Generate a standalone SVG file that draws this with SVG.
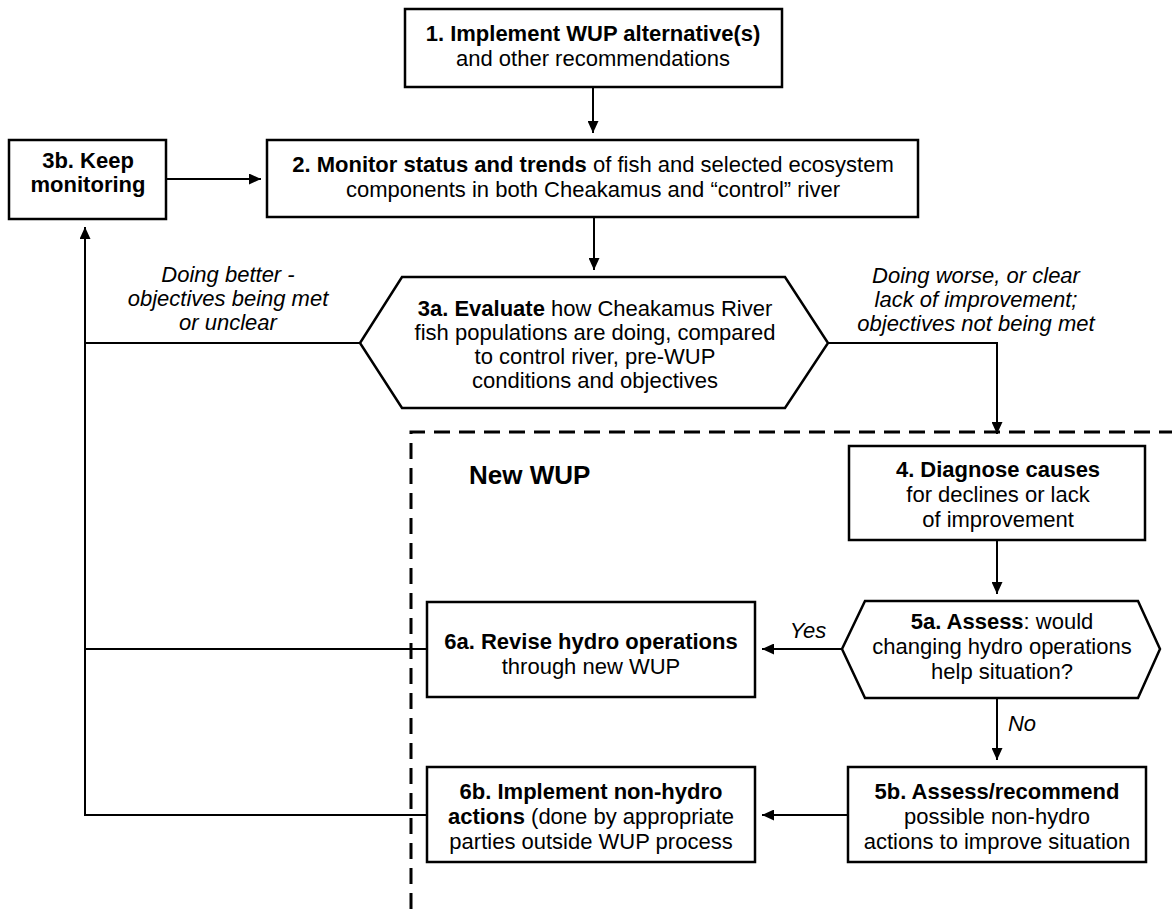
<svg xmlns="http://www.w3.org/2000/svg" width="1172" height="909" viewBox="0 0 1172 909">
  <defs>
    <marker id="arr" viewBox="0 0 12 11" refX="12" refY="5.5" markerWidth="12" markerHeight="11" markerUnits="userSpaceOnUse" orient="auto">
      <path d="M0,0 L12,5.5 L0,11 Z" fill="#000"/>
    </marker>
    <style>
      .box { fill: #fff; stroke: #000; stroke-width: 2.5; }
      .t { font-family: "Liberation Sans", Arial, sans-serif; font-size: 22px; fill: #000; text-anchor: middle; }
      .b { font-weight: bold; }
      .i { font-style: italic; }
      .c { fill: none; stroke: #000; stroke-width: 2; }
      .dash { fill: none; stroke: #000; stroke-width: 3; stroke-dasharray: 16 9; }
    </style>
  </defs>
  <rect width="1172" height="909" fill="#fff"/>

  <!-- New WUP region boundary -->
  <g id="region-new-wup">
    <path class="dash" d="M411,909 V432 H1172"/>
    <text class="t b" x="469" y="484" style="text-anchor:start;font-size:26px">New WUP</text>
  </g>

  <!-- Connectors -->
  <g id="connectors">
    <path class="c" d="M593,87 V133" marker-end="url(#arr)"/>
    <path class="c" d="M594,217 V270" marker-end="url(#arr)"/>
    <path class="c" d="M166,179 H261" marker-end="url(#arr)"/>
    <path class="c" d="M360,343 H85"/>
    <path class="c" d="M427,649 H85"/>
    <path class="c" d="M427,815 H85 V227" marker-end="url(#arr)"/>
    <path class="c" d="M828,343 H997 V434" marker-end="url(#arr)"/>
    <path class="c" d="M997,540 V594" marker-end="url(#arr)"/>
    <path class="c" d="M842,649 H762" marker-end="url(#arr)"/>
    <path class="c" d="M997,698 V760" marker-end="url(#arr)"/>
    <path class="c" d="M848,815 H762" marker-end="url(#arr)"/>
    <text class="t i" x="228" y="282">Doing better -</text>
    <text class="t i" x="228" y="306">objectives being met</text>
    <text class="t i" x="228" y="330">or unclear</text>
    <text class="t i" x="976" y="283">Doing worse, or clear</text>
    <text class="t i" x="976" y="307">lack of improvement;</text>
    <text class="t i" x="976" y="331">objectives not being met</text>
    <text class="t i" x="808" y="638">Yes</text>
    <text class="t i" x="1022" y="731">No</text>
  </g>

  <g id="n1">
    <rect class="box" x="405" y="9" width="377" height="78"/>
    <text class="t b" x="593" y="41">1. Implement WUP alternative(s)</text>
    <text class="t" x="593" y="66">and other recommendations</text>
  </g>

  <g id="n3b">
    <rect class="box" x="9" y="140" width="157" height="79"/>
    <text class="t b" x="88" y="168">3b. Keep</text>
    <text class="t b" x="88" y="192">monitoring</text>
  </g>

  <g id="n2">
    <rect class="box" x="267" y="140" width="651" height="77"/>
    <text class="t" x="593" y="172"><tspan class="b">2. Monitor status and trends</tspan> of fish and selected ecosystem</text>
    <text class="t" x="593" y="197">components in both Cheakamus and “control” river</text>
  </g>

  <g id="n3a">
    <path class="box" d="M402,277 H785 L828,343 L785,408 H402 L360,343 Z"/>
    <text class="t" x="595" y="316"><tspan class="b">3a. Evaluate</tspan> how Cheakamus River</text>
    <text class="t" x="595" y="340">fish populations are doing, compared</text>
    <text class="t" x="595" y="364">to control river, pre-WUP</text>
    <text class="t" x="595" y="388">conditions and objectives</text>
  </g>

  <g id="n4">
    <rect class="box" x="849" y="446" width="296" height="94"/>
    <text class="t b" x="998" y="477">4. Diagnose causes</text>
    <text class="t" x="998" y="502">for declines or lack</text>
    <text class="t" x="998" y="527">of improvement</text>
  </g>

  <g id="n5a">
    <path class="box" d="M865,601 H1138 L1160,649 L1138,698 H865 L842,649 Z"/>
    <text class="t" x="1002" y="629"><tspan class="b">5a. Assess</tspan>: would</text>
    <text class="t" x="1002" y="654">changing hydro operations</text>
    <text class="t" x="1002" y="679">help situation?</text>
  </g>

  <g id="n6a">
    <rect class="box" x="427" y="602" width="328" height="95"/>
    <text class="t b" x="591" y="649">6a. Revise hydro operations</text>
    <text class="t" x="591" y="674">through new WUP</text>
  </g>

  <g id="n5b">
    <rect class="box" x="848" y="767" width="298" height="95"/>
    <text class="t b" x="997" y="799">5b. Assess/recommend</text>
    <text class="t" x="997" y="824">possible non-hydro</text>
    <text class="t" x="997" y="849">actions to improve situation</text>
  </g>

  <g id="n6b">
    <rect class="box" x="427" y="767" width="328" height="95"/>
    <text class="t b" x="591" y="799">6b. Implement non-hydro</text>
    <text class="t" x="591" y="824"><tspan class="b">actions</tspan> (done by appropriate</text>
    <text class="t" x="591" y="849">parties outside WUP process</text>
  </g>
</svg>
